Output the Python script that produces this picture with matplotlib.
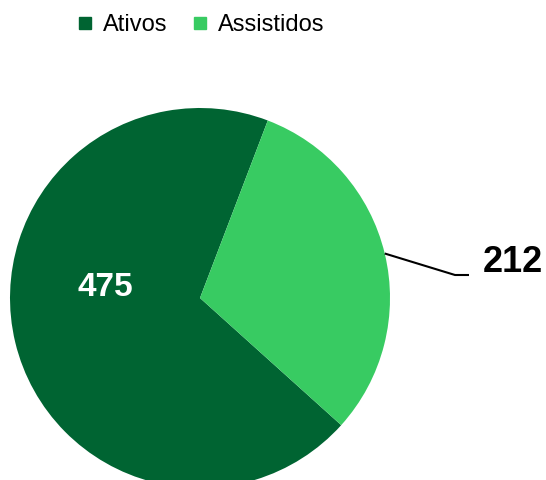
import numpy as np
import matplotlib
matplotlib.use("Agg")
import matplotlib.pyplot as plt
from matplotlib.lines import Line2D

categories = ["Ativos", "Assistidos"]
values = [475, 212]
colors = ["#006432", "#38CB62"]

plt.rcParams['font.family'] = ['Liberation Sans', 'DejaVu Sans']

W, H = 546, 480
fig = plt.figure(figsize=(W / 100, H / 100), dpi=100)
ax = fig.add_axes([0, 0, 1, 1])

cx, cy, R = 200, 480 - 298, 190
wedges, _ = ax.pie(values, colors=colors, startangle=-42, counterclock=False,
                   center=(cx, cy), radius=R, frame=True,
                   wedgeprops=dict(linewidth=0))
ax.set_xlim(0, W)
ax.set_ylim(0, H)
ax.set_aspect('equal')
ax.axis('off')

# Inside label for Ativos
w0 = wedges[0]
mid0 = np.deg2rad((w0.theta1 + w0.theta2) / 2)
ax.text(cx + 0.5 * R * np.cos(mid0) - 2, cy + 0.5 * R * np.sin(mid0) + 33, f"{values[0]}",
        color="white", fontsize=24, fontweight="bold", ha="center", va="center")

# Outside label for Assistidos with leader line
w1 = wedges[1]
mid1 = np.deg2rad((w1.theta1 + w1.theta2) / 2)
p0 = (cx + R * np.cos(mid1), cy + R * np.sin(mid1))
elbow = (455, 205)
end = (469, 205)
ax.plot([p0[0], elbow[0], end[0]], [p0[1], elbow[1], end[1]], color="black", lw=1.5,
        solid_capstyle='butt')
ax.text(483, 218, f"{values[1]}", color="black", fontsize=26, fontweight="bold",
        ha="left", va="center")

handles = [Line2D([], [], marker='s', linestyle='none', markersize=8.5,
                  markerfacecolor=c, markeredgecolor=c) for c in colors]
fig.legend(handles, categories, loc='center', bbox_to_anchor=(200 / W, 1 - 25 / H),
           ncol=2, frameon=False, fontsize=17, handletextpad=0.35, columnspacing=1.0,
           handlelength=0.8)

fig.savefig("out.png", dpi=100)
